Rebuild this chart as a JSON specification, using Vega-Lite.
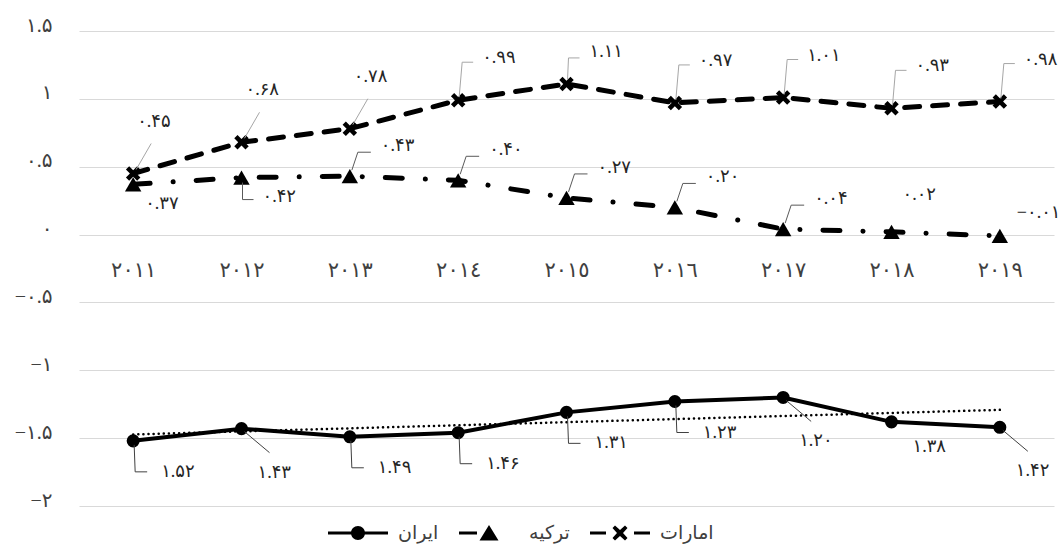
{
  "$schema": "https://vega.github.io/schema/vega-lite/v6.json",
  "width": 975,
  "height": 475,
  "autosize": {"type": "none"},
  "padding": {"left": 79, "top": 31, "right": 7, "bottom": 42},
  "background": "white",
  "config": {
    "view": {"stroke": null},
    "font": "Liberation Serif, DejaVu Sans"
  },
  "datasets": {
    "d": [
      {"year": 2011, "s": "امارات", "v": 0.45, "t": "۰.۴۵"},
      {"year": 2012, "s": "امارات", "v": 0.68, "t": "۰.۶۸"},
      {"year": 2013, "s": "امارات", "v": 0.78, "t": "۰.۷۸"},
      {"year": 2014, "s": "امارات", "v": 0.99, "t": "۰.۹۹"},
      {"year": 2015, "s": "امارات", "v": 1.11, "t": "۱.۱۱"},
      {"year": 2016, "s": "امارات", "v": 0.97, "t": "۰.۹۷"},
      {"year": 2017, "s": "امارات", "v": 1.01, "t": "۱.۰۱"},
      {"year": 2018, "s": "امارات", "v": 0.93, "t": "۰.۹۳"},
      {"year": 2019, "s": "امارات", "v": 0.98, "t": "۰.۹۸"},
      {"year": 2011, "s": "ترکیه", "v": 0.37, "t": "۰.۳۷"},
      {"year": 2012, "s": "ترکیه", "v": 0.42, "t": "۰.۴۲"},
      {"year": 2013, "s": "ترکیه", "v": 0.43, "t": "۰.۴۳"},
      {"year": 2014, "s": "ترکیه", "v": 0.40, "t": "۰.۴۰"},
      {"year": 2015, "s": "ترکیه", "v": 0.27, "t": "۰.۲۷"},
      {"year": 2016, "s": "ترکیه", "v": 0.20, "t": "۰.۲۰"},
      {"year": 2017, "s": "ترکیه", "v": 0.04, "t": "۰.۰۴"},
      {"year": 2018, "s": "ترکیه", "v": 0.02, "t": "۰.۰۲"},
      {"year": 2019, "s": "ترکیه", "v": -0.01, "t": "−۰.۰۱"},
      {"year": 2011, "s": "ایران", "v": -1.52, "t": "۱.۵۲"},
      {"year": 2012, "s": "ایران", "v": -1.43, "t": "۱.۴۳"},
      {"year": 2013, "s": "ایران", "v": -1.49, "t": "۱.۴۹"},
      {"year": 2014, "s": "ایران", "v": -1.46, "t": "۱.۴۶"},
      {"year": 2015, "s": "ایران", "v": -1.31, "t": "۱.۳۱"},
      {"year": 2016, "s": "ایران", "v": -1.23, "t": "۱.۲۳"},
      {"year": 2017, "s": "ایران", "v": -1.20, "t": "۱.۲۰"},
      {"year": 2018, "s": "ایران", "v": -1.38, "t": "۱.۳۸"},
      {"year": 2019, "s": "ایران", "v": -1.42, "t": "۱.۴۲"}
    ]
  },
  "data": {"name": "d"},
  "encoding": {
    "x": {
      "field": "year",
      "type": "quantitative",
      "scale": {"domain": [2010.5, 2019.5], "nice": false, "zero": false},
      "axis": {
        "title": null,
        "values": [2011, 2012, 2013, 2014, 2015, 2016, 2017, 2018, 2019],
        "labelExpr": "['۲۰۱۱','۲۰۱۲','۲۰۱۳','۲۰۱٤','۲۰۱٥','۲۰۱٦','۲۰۱۷','۲۰۱۸','۲۰۱۹'][datum.value-2011]",
        "domain": false,
        "ticks": false,
        "tickSize": 0,
        "grid": false,
        "offset": -271,
        "labelPadding": 24,
        "labelFontSize": 21,
        "labelColor": "#404040",
        "labelFont": "Liberation Serif, DejaVu Sans"
      }
    },
    "y": {
      "field": "v",
      "type": "quantitative",
      "scale": {"domain": [-2, 1.5], "nice": false, "zero": false},
      "axis": {
        "title": null,
        "values": [-2, -1.5, -1, -0.5, 0, 0.5, 1, 1.5],
        "labelExpr": "datum.value==1.5?'۱.۵':datum.value==1?'۱':datum.value==0.5?'۰.۵':datum.value==0?'۰':datum.value==-0.5?'−۰.۵':datum.value==-1?'−۱':datum.value==-1.5?'−۱.۵':'−۲'",
        "domain": false,
        "ticks": false,
        "tickSize": 0,
        "grid": true,
        "gridColor": "#d9d9d9",
        "gridWidth": 1,
        "labelPadding": 27,
        "labelOffset": -6,
        "labelFontSize": 20,
        "labelColor": "#404040",
        "labelFont": "Liberation Serif, DejaVu Sans"
      }
    }
  },
  "layer": [
    {
      "transform": [
        {"filter": "datum.s == 'ایران'"},
        {"regression": "v", "on": "year", "extent": [2011, 2019]}
      ],
      "mark": {"type": "line", "color": "black", "strokeWidth": 2.5, "strokeDash": [0.1, 5], "strokeCap": "round"}
    },
    {
      "transform": [{"filter": "datum.s == 'امارات'"}],
      "mark": {"type": "line", "color": "black", "strokeWidth": 5, "strokeDash": [15, 13], "strokeCap": "round"}
    },
    {
      "transform": [{"filter": "datum.s == 'ترکیه'"}],
      "mark": {"type": "line", "color": "black", "strokeWidth": 5, "strokeDash": [17, 23, 0.1, 23], "strokeCap": "round"}
    },
    {
      "transform": [{"filter": "datum.s == 'ایران'"}],
      "mark": {"type": "line", "color": "black", "strokeWidth": 4}
    },
    {
      "transform": [{"filter": "datum.s == 'ایران'"}],
      "mark": {"type": "point", "shape": "circle", "filled": true, "color": "black", "size": 170, "opacity": 1}
    },
    {
      "transform": [{"filter": "datum.s == 'ترکیه'"}],
      "mark": {"type": "point", "shape": "triangle-up", "filled": true, "color": "black", "size": 270, "opacity": 1}
    },
    {
      "transform": [{"filter": "datum.s == 'امارات'"}],
      "mark": {"type": "point", "shape": "M-1,-0.55L-0.55,-1L0,-0.45L0.55,-1L1,-0.55L0.45,0L1,0.55L0.55,1L0,0.45L-0.55,1L-1,0.55L-0.45,0Z", "filled": true, "color": "black", "size": 210, "opacity": 1}
    },
    {
      "transform": [{"filter": "datum.s == 'امارات' && datum.year <= 2013"}],
      "mark": {"type": "rule", "color": "#a6a6a6", "strokeWidth": 1, "xOffset": 3, "yOffset": -4, "x2Offset": 18, "y2Offset": -30},
      "encoding": {"x2": {"field": "year"}, "y2": {"field": "v"}}
    },
    {
      "transform": [{"filter": "datum.s == 'امارات' && datum.year >= 2014 && datum.year != 2015"}],
      "mark": {"type": "rule", "color": "#a6a6a6", "strokeWidth": 1, "xOffset": 1, "yOffset": -3, "x2Offset": 4, "y2Offset": -38},
      "encoding": {"x2": {"field": "year"}, "y2": {"field": "v"}}
    },
    {
      "transform": [{"filter": "datum.s == 'امارات' && datum.year >= 2014 && datum.year != 2015"}],
      "mark": {"type": "rule", "color": "#a6a6a6", "strokeWidth": 1, "xOffset": 4, "yOffset": -38, "x2Offset": 15, "y2Offset": -38},
      "encoding": {"x2": {"field": "year"}, "y2": {"field": "v"}}
    },
    {
      "transform": [{"filter": "datum.s == 'امارات' && datum.year == 2015"}],
      "mark": {"type": "rule", "color": "#a6a6a6", "strokeWidth": 1, "xOffset": 1, "yOffset": -4, "x2Offset": 2, "y2Offset": -26},
      "encoding": {"x2": {"field": "year"}, "y2": {"field": "v"}}
    },
    {
      "transform": [{"filter": "datum.s == 'امارات' && datum.year == 2015"}],
      "mark": {"type": "rule", "color": "#a6a6a6", "strokeWidth": 1, "xOffset": 2, "yOffset": -26, "x2Offset": 13, "y2Offset": -26},
      "encoding": {"x2": {"field": "year"}, "y2": {"field": "v"}}
    },
    {
      "transform": [{"filter": "datum.s == 'ترکیه' && datum.year == 2012"}],
      "mark": {"type": "rule", "color": "#595959", "strokeWidth": 1, "xOffset": 1, "yOffset": 5, "x2Offset": 1, "y2Offset": 22},
      "encoding": {"x2": {"field": "year"}, "y2": {"field": "v"}}
    },
    {
      "transform": [{"filter": "datum.s == 'ترکیه' && datum.year == 2012"}],
      "mark": {"type": "rule", "color": "#595959", "strokeWidth": 1, "xOffset": 1, "yOffset": 22, "x2Offset": 12, "y2Offset": 22},
      "encoding": {"x2": {"field": "year"}, "y2": {"field": "v"}}
    },
    {
      "transform": [{"filter": "datum.s == 'ترکیه' && datum.year >= 2013 && datum.year <= 2017"}],
      "mark": {"type": "rule", "color": "#595959", "strokeWidth": 1, "xOffset": 2, "yOffset": -6, "x2Offset": 8, "y2Offset": -24},
      "encoding": {"x2": {"field": "year"}, "y2": {"field": "v"}}
    },
    {
      "transform": [{"filter": "datum.s == 'ترکیه' && datum.year >= 2013 && datum.year <= 2017"}],
      "mark": {"type": "rule", "color": "#595959", "strokeWidth": 1, "xOffset": 8, "yOffset": -24, "x2Offset": 21, "y2Offset": -24},
      "encoding": {"x2": {"field": "year"}, "y2": {"field": "v"}}
    },
    {
      "transform": [{"filter": "datum.s == 'ایران' && indexof([2011, 2013, 2014, 2015, 2016], datum.year) >= 0"}],
      "mark": {"type": "rule", "color": "#404040", "strokeWidth": 1, "xOffset": 1, "yOffset": 4, "x2Offset": 2, "y2Offset": 31},
      "encoding": {"x2": {"field": "year"}, "y2": {"field": "v"}}
    },
    {
      "transform": [{"filter": "datum.s == 'ایران' && indexof([2011, 2013, 2014, 2015, 2016], datum.year) >= 0"}],
      "mark": {"type": "rule", "color": "#404040", "strokeWidth": 1, "xOffset": 2, "yOffset": 31, "x2Offset": 14, "y2Offset": 31},
      "encoding": {"x2": {"field": "year"}, "y2": {"field": "v"}}
    },
    {
      "transform": [{"filter": "datum.s == 'ایران' && indexof([2012, 2017, 2019], datum.year) >= 0"}],
      "mark": {"type": "rule", "color": "#404040", "strokeWidth": 1, "xOffset": 3, "yOffset": 3, "x2Offset": 28, "y2Offset": 24},
      "encoding": {"x2": {"field": "year"}, "y2": {"field": "v"}}
    },
    {
      "transform": [{"filter": "datum.s == 'امارات' && datum.year <= 2013"}],
      "mark": {"type": "text", "align": "left", "baseline": "middle", "dx": 4, "dy": -52, "fontSize": 18, "color": "#262626"},
      "encoding": {"text": {"field": "t"}}
    },
    {
      "transform": [{"filter": "datum.s == 'امارات' && datum.year >= 2014 && datum.year != 2015"}],
      "mark": {"type": "text", "align": "left", "baseline": "middle", "dx": 24, "dy": -42, "fontSize": 18, "color": "#262626"},
      "encoding": {"text": {"field": "t"}}
    },
    {
      "transform": [{"filter": "datum.s == 'امارات' && datum.year == 2015"}],
      "mark": {"type": "text", "align": "left", "baseline": "middle", "dx": 23, "dy": -32, "fontSize": 18, "color": "#262626"},
      "encoding": {"text": {"field": "t"}}
    },
    {
      "transform": [{"filter": "datum.s == 'ترکیه' && datum.year == 2011"}],
      "mark": {"type": "text", "align": "left", "baseline": "middle", "dx": 12, "dy": 20, "fontSize": 18, "color": "#262626"},
      "encoding": {"text": {"field": "t"}}
    },
    {
      "transform": [{"filter": "datum.s == 'ترکیه' && datum.year == 2012"}],
      "mark": {"type": "text", "align": "left", "baseline": "middle", "dx": 21, "dy": 19, "fontSize": 18, "color": "#262626"},
      "encoding": {"text": {"field": "t"}}
    },
    {
      "transform": [{"filter": "datum.s == 'ترکیه' && datum.year >= 2013 && datum.year <= 2017"}],
      "mark": {"type": "text", "align": "left", "baseline": "middle", "dx": 31, "dy": -30, "fontSize": 18, "color": "#262626"},
      "encoding": {"text": {"field": "t"}}
    },
    {
      "transform": [{"filter": "datum.s == 'ترکیه' && datum.year == 2018"}],
      "mark": {"type": "text", "align": "left", "baseline": "middle", "dx": 11, "dy": -37, "fontSize": 18, "color": "#262626"},
      "encoding": {"text": {"field": "t"}}
    },
    {
      "transform": [{"filter": "datum.s == 'ترکیه' && datum.year == 2019"}],
      "mark": {"type": "text", "align": "left", "baseline": "middle", "dx": 17, "dy": -23, "fontSize": 18, "color": "#262626"},
      "encoding": {"text": {"field": "t"}}
    },
    {
      "transform": [{"filter": "datum.s == 'ایران' && indexof([2011, 2013, 2014, 2015, 2016], datum.year) >= 0"}],
      "mark": {"type": "text", "align": "left", "baseline": "middle", "dx": 28, "dy": 31, "fontSize": 18, "color": "#262626"},
      "encoding": {"text": {"field": "t"}}
    },
    {
      "transform": [{"filter": "datum.s == 'ایران' && indexof([2012, 2017, 2019], datum.year) >= 0"}],
      "mark": {"type": "text", "align": "left", "baseline": "middle", "dx": 16, "dy": 44, "fontSize": 18, "color": "#262626"},
      "encoding": {"text": {"field": "t"}}
    },
    {
      "transform": [{"filter": "datum.s == 'ایران' && datum.year == 2018"}],
      "mark": {"type": "text", "align": "left", "baseline": "middle", "dx": 21, "dy": 25, "fontSize": 18, "color": "#262626"},
      "encoding": {"text": {"field": "t"}}
    },
    {
      "transform": [{"filter": "false"}],
      "mark": {"type": "point", "filled": true, "color": "black", "opacity": 1},
      "encoding": {
        "shape": {
          "field": "s",
          "type": "nominal",
          "scale": {
            "domain": ["ایران", "ترکیه", "امارات"],
            "range": [
              "M-1,-0.15H5V0.15H-1Z M2.7,0A0.7,0.7 0 1 1 1.3,0A0.7,0.7 0 1 1 2.7,0Z",
              "M-1,-0.15H0.8V0.15H-1Z M2,-0.8L2.95,0.75L1.05,0.75Z",
              "M-1,-0.15H0.6V0.15H-1Z M3.4,-0.15H5V0.15H3.4Z M1.25,-0.5L1.5,-0.75L2,-0.3L2.5,-0.75L2.75,-0.5L2.3,0L2.75,0.5L2.5,0.75L2,0.3L1.5,0.75L1.25,0.5L1.7,0Z"
            ]
          },
          "legend": {
            "title": null,
            "orient": "none",
            "legendX": 249,
            "legendY": 492,
            "direction": "horizontal",
            "padding": 0,
            "symbolSize": 400,
            "symbolFillColor": "black",
            "symbolStrokeWidth": 0,
            "labelOffset": 50,
            "columnPadding": 20,
            "labelFontSize": 19,
            "labelColor": "#404040",
            "labelFont": "Liberation Serif, DejaVu Sans"
          }
        }
      }
    }
  ]
}
